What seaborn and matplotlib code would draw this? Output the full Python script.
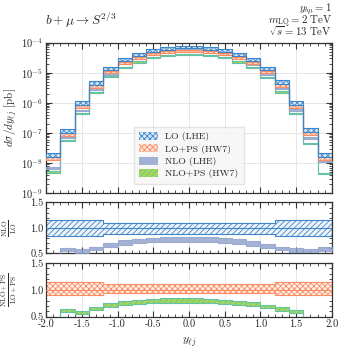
import numpy as np
import matplotlib
matplotlib.use("Agg")
import matplotlib.pyplot as plt
import matplotlib.ticker as mticker
from matplotlib.patches import Patch
import seaborn as sns

# bin edges in y_lj
bin_edges = [-2.0, -1.8, -1.6, -1.4, -1.2, -1.0, -0.8, -0.6, -0.4, -0.2, 0.0,
             0.2, 0.4, 0.6, 0.8, 1.0, 1.2, 1.4, 1.6, 1.8, 2.0]

# d sigma / dy [pb], one value per bin
lo = [1.88e-8, 1.2e-7, 1.03e-6, 4.7e-6, 1.4e-5, 2.78e-5, 4.07e-5, 5.65e-5, 6.5e-5, 7.26e-5,
      7.26e-5, 6.5e-5, 5.65e-5, 4.1e-5, 2.78e-5, 1.4e-5, 5.0e-6, 1.03e-6, 1.24e-7, 1.88e-8]
lo_ps = [1.40e-8, 9.0e-8, 7.4e-7, 3.4e-6, 1.04e-5, 2.0e-5, 2.93e-5, 4.07e-5, 4.68e-5, 5.1e-5,
         5.1e-5, 4.68e-5, 4.07e-5, 2.95e-5, 2.0e-5, 1.01e-5, 3.6e-6, 7.4e-7, 9.3e-8, 1.42e-8]
nlo = [6.8e-9, 6.9e-8, 5.6e-7, 2.81e-6, 9.24e-6, 1.99e-5, 3.04e-5, 4.29e-5, 5.04e-5, 5.66e-5,
       5.66e-5, 5.04e-5, 4.27e-5, 2.99e-5, 1.93e-5, 9.1e-6, 2.99e-6, 5.82e-7, 6.88e-8, 1.1e-8]
nlo_ps = [5.0e-9, 5.5e-8, 4.3e-7, 2.21e-6, 7.4e-6, 1.5e-5, 2.26e-5, 3.22e-5, 3.74e-5, 4.08e-5,
          4.08e-5, 3.70e-5, 3.17e-5, 2.24e-5, 1.46e-5, 6.97e-6, 2.30e-6, 4.44e-7, 4.37e-8, 4.4e-9]

# relative scale uncertainties (up / down)
lo_up = [0.15, 0.15, 0.15, 0.15, 0.10, 0.10, 0.10, 0.10, 0.10, 0.10,
         0.10, 0.10, 0.10, 0.10, 0.10, 0.10, 0.15, 0.15, 0.15, 0.15]
lo_dn = [0.16, 0.16, 0.16, 0.16, 0.12, 0.12, 0.12, 0.12, 0.12, 0.12,
         0.12, 0.12, 0.12, 0.12, 0.12, 0.12, 0.16, 0.16, 0.16, 0.16]
lops_up = [0.155, 0.155, 0.155, 0.155, 0.11, 0.11, 0.11, 0.11, 0.11, 0.11,
           0.11, 0.11, 0.11, 0.11, 0.11, 0.11, 0.155, 0.155, 0.155, 0.155]
lops_dn = [0.095, 0.095, 0.095, 0.095, 0.065, 0.065, 0.065, 0.065, 0.065, 0.065,
           0.065, 0.065, 0.065, 0.065, 0.065, 0.065, 0.095, 0.095, 0.095, 0.095]
nlo_err = [0.06] * 20
nlops_err = [0.05] * 20

c_lo, c_lo_face = '#3f86c9', '#d6e6f5'
c_ps, c_ps_face = '#fc8d62', '#fde3d8'
c_nlo = '#8da0cb'
c_nps, c_nps_edge = '#a6d854', '#66c2a5'

sns.set_theme(style="ticks", rc={
    "axes.edgecolor": "#333333",
    "axes.linewidth": 0.9,
    "hatch.linewidth": 0.6,
    "mathtext.fontset": "cm",
    "axes.formatter.use_mathtext": True,
    "axes.unicode_minus": True,
    "axes.labelsize": 8,
})
plt.rcParams['font.family'] = ['cmr10', 'DejaVu Serif']
plt.rcParams['font.size'] = 7.5


def st(a):
    a = np.asarray(a, dtype=float)
    return np.append(a, a[-1])


x = np.asarray(bin_edges)
LO, LOPS, NLO, NLOPS = (np.asarray(v) for v in (lo, lo_ps, nlo, nlo_ps))
LOu, LOd = np.asarray(lo_up), np.asarray(lo_dn)
PSu, PSd = np.asarray(lops_up), np.asarray(lops_dn)
Ne, NPe = np.asarray(nlo_err), np.asarray(nlops_err)

fig = plt.figure(figsize=(3.49, 3.49), dpi=100)
ax0 = fig.add_axes([0.132, 0.447, 0.819, 0.431])
ax1 = fig.add_axes([0.132, 0.274, 0.819, 0.146])
ax2 = fig.add_axes([0.132, 0.093, 0.819, 0.153])

# main panel
ax0.fill_between(x, st(NLOPS * (1 - NPe)), st(NLOPS * (1 + NPe)), step='post',
                 facecolor=c_nps, edgecolor=c_nps_edge, hatch='//////', lw=0.8, zorder=2)
ax0.fill_between(x, st(NLO * (1 - Ne)), st(NLO * (1 + Ne)), step='post',
                 facecolor=c_nlo, edgecolor=c_nlo, alpha=0.8, lw=0.8, zorder=3)
ax0.fill_between(x, st(LOPS * (1 - PSd)), st(LOPS * (1 + PSu)), step='post',
                 facecolor=c_ps_face, edgecolor=c_ps, hatch='xxxxxx', lw=0.8, zorder=4)
ax0.fill_between(x, st(LO * (1 - LOd)), st(LO * (1 + LOu)), step='post',
                 facecolor=c_lo_face, edgecolor=c_lo, hatch='xxxxxx', lw=0.8, zorder=5)
ax0.set_yscale('log')
ax0.set_ylim(1e-9, 1e-4)
ax0.set_ylabel(r'$d\sigma/dy_{\ell j}$ [pb]', fontsize=8)
ax0.yaxis.set_label_coords(-0.092, 0.5)
ax0.yaxis.set_major_locator(mticker.LogLocator(base=10, numticks=10))
ax0.yaxis.set_minor_locator(mticker.LogLocator(base=10, subs=np.arange(2, 10), numticks=20))
ax0.yaxis.set_minor_formatter(mticker.NullFormatter())
ax0.grid(True, which='major', color='#e2e2e2', lw=0.6)
ax0.tick_params(labelbottom=False)

handles = [
    Patch(facecolor=c_lo_face, edgecolor=c_lo, hatch='xxxxxx', lw=0),
    Patch(facecolor=c_ps_face, edgecolor=c_ps, hatch='xxxxxx', lw=0),
    Patch(facecolor=c_nlo, edgecolor=c_nlo, alpha=0.8, lw=0),
    Patch(facecolor=c_nps, edgecolor=c_nps_edge, hatch='//////', lw=0),
]
leg = ax0.legend(handles, ['LO (LHE)', 'LO+PS (HW7)', 'NLO (LHE)', 'NLO+PS (HW7)'],
                 loc='lower center', bbox_to_anchor=(0.5, 0.03), fontsize=7,
                 handlelength=1.9, handleheight=0.9, labelspacing=0.3,
                 frameon=True, fancybox=False, framealpha=0.85,
                 facecolor='#f6f6f6', edgecolor='#e0e0e0', borderpad=0.55)
leg.set_zorder(10)

# ratio NLO / LO
ax1.fill_between(x, st(1 - LOd), st(1 + LOu), step='post', facecolor='#eef4fb',
                 edgecolor=c_lo, hatch='//////', lw=0.8, zorder=2)
sns.lineplot(x=x, y=st(LO / LO), ax=ax1, color=c_lo, lw=0.8, drawstyle='steps-post',
             legend=False, zorder=3)
ax1.fill_between(x, st(NLO * (1 - Ne) / LO), st(NLO * (1 + Ne) / LO), step='post',
                 facecolor=c_nlo, edgecolor=c_nlo, alpha=0.8, lw=0.8, zorder=4)
ax1.set_ylim(0.5, 1.5)
ax1.set_ylabel(r'$\frac{\mathrm{NLO}}{\mathrm{LO}}$', fontsize=7.5)
ax1.yaxis.set_label_coords(-0.095, 0.5)
ax1.tick_params(labelbottom=False)

# ratio NLO+PS / LO+PS
ax2.fill_between(x, st(1 - PSd), st(1 + PSu), step='post', facecolor='#fff1eb',
                 edgecolor=c_ps, hatch='xxxxxx', lw=0.8, zorder=2)
sns.lineplot(x=x, y=st(LOPS / LOPS), ax=ax2, color=c_ps, lw=0.8, drawstyle='steps-post',
             legend=False, zorder=3)
ax2.fill_between(x, st(NLOPS * (1 - NPe) / LOPS), st(NLOPS * (1 + NPe) / LOPS), step='post',
                 facecolor=c_nps, edgecolor=c_nps_edge, hatch='//////', lw=0.8, zorder=4)
ax2.set_ylim(0.5, 1.5)
ax2.set_ylabel(r'$\frac{\mathrm{NLO+PS}}{\mathrm{LO+PS}}$', fontsize=7.5)
ax2.yaxis.set_label_coords(-0.095, 0.5)
ax2.set_xlabel(r'$y_{\ell j}$', fontsize=8.5)
ax2.xaxis.set_label_coords(0.5, -0.36)
ax2.xaxis.set_major_formatter(mticker.FormatStrFormatter('%.1f'))

for ax in (ax1, ax2):
    ax.set_yticks([0.5, 1.0, 1.5])
    ax.yaxis.set_major_formatter(mticker.FormatStrFormatter('%.1f'))
    ax.yaxis.set_minor_locator(mticker.MultipleLocator(0.1))
    ax.grid(True, axis='x', which='major', color='#e2e2e2', lw=0.6)

for ax in (ax0, ax1, ax2):
    ax.set_xlim(-2.0, 2.0)
    ax.xaxis.set_major_locator(mticker.MultipleLocator(0.5))
    ax.xaxis.set_minor_locator(mticker.MultipleLocator(0.1))
    ax.tick_params(which='both', direction='in', top=True, right=True,
                   labelsize=7.5, pad=2, color='#333333')
    ax.tick_params(which='major', length=4, width=0.8)
    ax.tick_params(which='minor', length=2, width=0.6)
    ax.set_axisbelow(True)

fig.text(45 / 349, 1 - 25 / 349, r'$b + \mu \rightarrow S^{2/3}$', ha='left', va='baseline', fontsize=9.5)
fig.text(332 / 349, 1 - 12 / 349, r'$y_{b\mu} = 1$', ha='right', va='baseline', fontsize=7.8)
fig.text(332 / 349, 1 - 24 / 349, r'$m_{\mathrm{LQ}} = 2\ \mathrm{TeV}$', ha='right', va='baseline', fontsize=7.8)
fig.text(332 / 349, 1 - 36 / 349, r'$\sqrt{s} = 13\ \mathrm{TeV}$', ha='right', va='baseline', fontsize=7.8)

fig.savefig('out.png', dpi=100)
